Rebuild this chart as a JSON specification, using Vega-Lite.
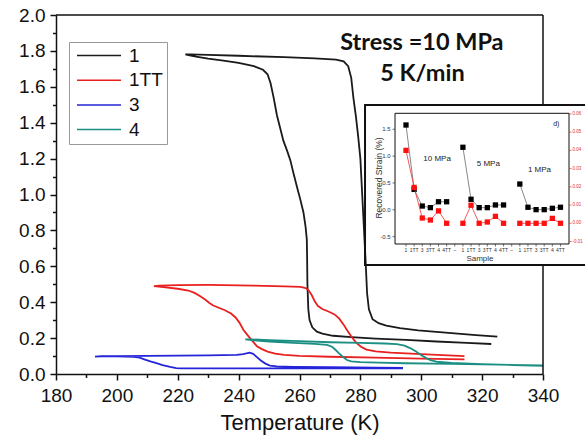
{
  "$schema": "https://vega.github.io/schema/vega-lite/v6.json",
  "width": 487,
  "height": 359,
  "autosize": {"type": "none"},
  "padding": {"left": 56, "top": 15, "right": 42, "bottom": 67},
  "background": "white",
  "config": {
    "view": {"stroke": null},
    "font": "Liberation Sans",
    "axis": {"grid": false, "domainColor": "#111", "tickColor": "#111", "labelColor": "#111", "titleColor": "#111", "titleFontWeight": "normal", "labelFont": "Liberation Sans", "titleFont": "Liberation Sans"}
  },
  "layer": [
    {
      "data": {"values": [
        {"s":"1","i":1,"T":323,"v":0.167},{"s":"1","i":2,"T":315,"v":0.173},{"s":"1","i":3,"T":305,"v":0.181},{"s":"1","i":4,"T":295,"v":0.19},{"s":"1","i":5,"T":285,"v":0.197},{"s":"1","i":6,"T":277,"v":0.205},{"s":"1","i":7,"T":271,"v":0.213},{"s":"1","i":8,"T":267.5,"v":0.225},{"s":"1","i":9,"T":265.7,"v":0.236},{"s":"1","i":10,"T":264.2,"v":0.26},{"s":"1","i":11,"T":263.3,"v":0.3},{"s":"1","i":12,"T":262.9,"v":0.36},{"s":"1","i":13,"T":262.6,"v":0.5},{"s":"1","i":14,"T":262.5,"v":0.65},{"s":"1","i":15,"T":262.4,"v":0.75},{"s":"1","i":16,"T":262,"v":0.82},{"s":"1","i":17,"T":261.3,"v":0.9},{"s":"1","i":18,"T":260.3,"v":0.97},{"s":"1","i":19,"T":259.2,"v":1.04},{"s":"1","i":20,"T":258,"v":1.12},{"s":"1","i":21,"T":257,"v":1.19},{"s":"1","i":22,"T":256,"v":1.24},{"s":"1","i":23,"T":254.7,"v":1.3},{"s":"1","i":24,"T":253.5,"v":1.38},{"s":"1","i":25,"T":252.6,"v":1.44},{"s":"1","i":26,"T":251.5,"v":1.54},{"s":"1","i":27,"T":250.5,"v":1.62},{"s":"1","i":28,"T":249.5,"v":1.67},{"s":"1","i":29,"T":248,"v":1.695},{"s":"1","i":30,"T":245,"v":1.715},{"s":"1","i":31,"T":240,"v":1.733},{"s":"1","i":32,"T":235,"v":1.746},{"s":"1","i":33,"T":230,"v":1.757},{"s":"1","i":34,"T":226,"v":1.768},{"s":"1","i":35,"T":223.5,"v":1.777},{"s":"1","i":36,"T":222.5,"v":1.781},{"s":"1","i":37,"T":224,"v":1.781},{"s":"1","i":38,"T":230,"v":1.778},{"s":"1","i":39,"T":240,"v":1.773},{"s":"1","i":40,"T":255,"v":1.765},{"s":"1","i":41,"T":265,"v":1.758},{"s":"1","i":42,"T":272,"v":1.751},{"s":"1","i":43,"T":274.5,"v":1.742},{"s":"1","i":44,"T":276,"v":1.715},{"s":"1","i":45,"T":277,"v":1.65},{"s":"1","i":46,"T":277.7,"v":1.54},{"s":"1","i":47,"T":278.5,"v":1.44},{"s":"1","i":48,"T":279.3,"v":1.32},{"s":"1","i":49,"T":280,"v":1.2},{"s":"1","i":50,"T":280.6,"v":1.0},{"s":"1","i":51,"T":281.2,"v":0.8},{"s":"1","i":52,"T":281.8,"v":0.6},{"s":"1","i":53,"T":282.2,"v":0.45},{"s":"1","i":54,"T":282.8,"v":0.36},{"s":"1","i":55,"T":284,"v":0.305},{"s":"1","i":56,"T":286,"v":0.283},{"s":"1","i":57,"T":288.5,"v":0.27},{"s":"1","i":58,"T":293,"v":0.255},{"s":"1","i":59,"T":299,"v":0.243},{"s":"1","i":60,"T":310,"v":0.228},{"s":"1","i":61,"T":318,"v":0.217},{"s":"1","i":62,"T":325,"v":0.208},
        {"s":"1TT","i":1,"T":314.2,"v":0.082},{"s":"1TT","i":2,"T":300,"v":0.086},{"s":"1TT","i":3,"T":285,"v":0.091},{"s":"1TT","i":4,"T":270,"v":0.096},{"s":"1TT","i":5,"T":260,"v":0.101},{"s":"1TT","i":6,"T":255,"v":0.106},{"s":"1TT","i":7,"T":252,"v":0.113},{"s":"1TT","i":8,"T":249.5,"v":0.125},{"s":"1TT","i":9,"T":247.5,"v":0.14},{"s":"1TT","i":10,"T":246,"v":0.155},{"s":"1TT","i":11,"T":244.5,"v":0.185},{"s":"1TT","i":12,"T":243,"v":0.215},{"s":"1TT","i":13,"T":241.6,"v":0.245},{"s":"1TT","i":14,"T":240.3,"v":0.285},{"s":"1TT","i":15,"T":239,"v":0.315},{"s":"1TT","i":16,"T":237.5,"v":0.337},{"s":"1TT","i":17,"T":235.5,"v":0.355},{"s":"1TT","i":18,"T":233.5,"v":0.369},{"s":"1TT","i":19,"T":231.5,"v":0.383},{"s":"1TT","i":20,"T":230.3,"v":0.397},{"s":"1TT","i":21,"T":229,"v":0.415},{"s":"1TT","i":22,"T":227.4,"v":0.433},{"s":"1TT","i":23,"T":225.5,"v":0.452},{"s":"1TT","i":24,"T":223.5,"v":0.465},{"s":"1TT","i":25,"T":220,"v":0.475},{"s":"1TT","i":26,"T":216,"v":0.483},{"s":"1TT","i":27,"T":213,"v":0.488},{"s":"1TT","i":28,"T":212.2,"v":0.49},{"s":"1TT","i":29,"T":214,"v":0.492},{"s":"1TT","i":30,"T":220,"v":0.495},{"s":"1TT","i":31,"T":230,"v":0.496},{"s":"1TT","i":32,"T":245,"v":0.492},{"s":"1TT","i":33,"T":255,"v":0.488},{"s":"1TT","i":34,"T":260.3,"v":0.485},{"s":"1TT","i":35,"T":262,"v":0.479},{"s":"1TT","i":36,"T":263,"v":0.466},{"s":"1TT","i":37,"T":264,"v":0.44},{"s":"1TT","i":38,"T":265,"v":0.405},{"s":"1TT","i":39,"T":266,"v":0.38},{"s":"1TT","i":40,"T":267.5,"v":0.362},{"s":"1TT","i":41,"T":269.5,"v":0.348},{"s":"1TT","i":42,"T":271.5,"v":0.332},{"s":"1TT","i":43,"T":273,"v":0.31},{"s":"1TT","i":44,"T":274.5,"v":0.275},{"s":"1TT","i":45,"T":275.8,"v":0.24},{"s":"1TT","i":46,"T":277.2,"v":0.205},{"s":"1TT","i":47,"T":278.6,"v":0.175},{"s":"1TT","i":48,"T":280.2,"v":0.152},{"s":"1TT","i":49,"T":282,"v":0.136},{"s":"1TT","i":50,"T":285,"v":0.126},{"s":"1TT","i":51,"T":290,"v":0.119},{"s":"1TT","i":52,"T":300,"v":0.111},{"s":"1TT","i":53,"T":314.2,"v":0.1},
        {"s":"3","i":1,"T":294,"v":0.031},{"s":"3","i":2,"T":275,"v":0.031},{"s":"3","i":3,"T":250,"v":0.031},{"s":"3","i":4,"T":230,"v":0.031},{"s":"3","i":5,"T":221,"v":0.031},{"s":"3","i":6,"T":219.5,"v":0.033},{"s":"3","i":7,"T":217.5,"v":0.04},{"s":"3","i":8,"T":215,"v":0.05},{"s":"3","i":9,"T":213,"v":0.06},{"s":"3","i":10,"T":211,"v":0.07},{"s":"3","i":11,"T":209,"v":0.082},{"s":"3","i":12,"T":207.5,"v":0.091},{"s":"3","i":13,"T":205.5,"v":0.096},{"s":"3","i":14,"T":200,"v":0.099},{"s":"3","i":15,"T":195,"v":0.098},{"s":"3","i":16,"T":192.8,"v":0.097},{"s":"3","i":17,"T":195,"v":0.099},{"s":"3","i":18,"T":200,"v":0.1},{"s":"3","i":19,"T":210,"v":0.101},{"s":"3","i":20,"T":220,"v":0.102},{"s":"3","i":21,"T":230,"v":0.104},{"s":"3","i":22,"T":239.4,"v":0.106},{"s":"3","i":23,"T":241.5,"v":0.111},{"s":"3","i":24,"T":243.6,"v":0.119},{"s":"3","i":25,"T":244.8,"v":0.112},{"s":"3","i":26,"T":246,"v":0.094},{"s":"3","i":27,"T":247.3,"v":0.075},{"s":"3","i":28,"T":248.8,"v":0.058},{"s":"3","i":29,"T":250.3,"v":0.047},{"s":"3","i":30,"T":252.5,"v":0.042},{"s":"3","i":31,"T":258,"v":0.04},{"s":"3","i":32,"T":270,"v":0.038},{"s":"3","i":33,"T":285,"v":0.036},{"s":"3","i":34,"T":294,"v":0.034},
        {"s":"4","i":1,"T":340,"v":0.048},{"s":"4","i":2,"T":325,"v":0.052},{"s":"4","i":3,"T":310,"v":0.056},{"s":"4","i":4,"T":295,"v":0.06},{"s":"4","i":5,"T":286,"v":0.063},{"s":"4","i":6,"T":280,"v":0.066},{"s":"4","i":7,"T":277,"v":0.07},{"s":"4","i":8,"T":275.6,"v":0.078},{"s":"4","i":9,"T":274.3,"v":0.095},{"s":"4","i":10,"T":273,"v":0.115},{"s":"4","i":11,"T":271.8,"v":0.135},{"s":"4","i":12,"T":270.7,"v":0.152},{"s":"4","i":13,"T":269,"v":0.162},{"s":"4","i":14,"T":265,"v":0.168},{"s":"4","i":15,"T":258,"v":0.173},{"s":"4","i":16,"T":250,"v":0.18},{"s":"4","i":17,"T":245,"v":0.187},{"s":"4","i":18,"T":242.2,"v":0.193},{"s":"4","i":19,"T":244,"v":0.193},{"s":"4","i":20,"T":250,"v":0.189},{"s":"4","i":21,"T":260,"v":0.183},{"s":"4","i":22,"T":270,"v":0.177},{"s":"4","i":23,"T":280,"v":0.173},{"s":"4","i":24,"T":288,"v":0.17},{"s":"4","i":25,"T":292,"v":0.167},{"s":"4","i":26,"T":294.5,"v":0.158},{"s":"4","i":27,"T":296.5,"v":0.143},{"s":"4","i":28,"T":298.3,"v":0.125},{"s":"4","i":29,"T":300,"v":0.105},{"s":"4","i":30,"T":301.5,"v":0.09},{"s":"4","i":31,"T":303,"v":0.077},{"s":"4","i":32,"T":305,"v":0.069},{"s":"4","i":33,"T":310,"v":0.062},{"s":"4","i":34,"T":320,"v":0.055},{"s":"4","i":35,"T":330,"v":0.05},{"s":"4","i":36,"T":340,"v":0.046}
      ]},
      "layer": [
        {
          "mark": {"type": "line", "strokeWidth": 1.8, "clip": true},
          "encoding": {
            "x": {"field": "T", "type": "quantitative", "scale": {"domain": [180, 340], "nice": false, "zero": false},
              "axis": {"orient": "bottom", "values": [180,200,220,240,260,280,300,320,340], "tickSize": 6, "tickWidth": 1.5, "domainWidth": 1.5, "labelFontSize": 19, "labelPadding": 6, "labelOverlap": false, "labelFlush": false, "title": "Temperature (K)", "titleFontSize": 22, "titlePadding": 7}},
            "y": {"field": "v", "type": "quantitative", "scale": {"domain": [0, 2], "nice": false, "zero": false},
              "axis": {"orient": "left", "values": [0,0.2,0.4,0.6,0.8,1.0,1.2,1.4,1.6,1.8,2.0], "format": ".1f", "tickSize": 6, "tickWidth": 1.5, "domainWidth": 1.5, "labelFontSize": 19, "labelPadding": 5, "labelOverlap": false, "labelFlush": false, "title": null}},
            "color": {"field": "s", "type": "nominal", "scale": {"domain": ["1", "1TT", "3", "4"], "range": ["#1a1a1a", "#e8201f", "#2424d8", "#1b8f83"]},
              "legend": {"orient": "none", "legendX": 13, "legendY": 27, "title": null, "labelFontSize": 19, "labelFont": "Liberation Sans", "labelColor": "#111", "symbolType": "M-1,0H7", "symbolSize": 121, "symbolStrokeWidth": 1.5, "labelOffset": 37, "padding": 4, "rowPadding": 4.7, "strokeColor": "#999", "fillColor": "white"}},
            "order": {"field": "i", "type": "quantitative"}
          }
        },
        {
          "mark": {"type": "line", "opacity": 0, "strokeOpacity": 0},
          "encoding": {
            "x": {"field": "T", "type": "quantitative",
              "axis": {"orient": "bottom", "values": [190,210,230,250,270,290,310,330], "labels": false, "domain": false, "tickSize": 3.5, "tickWidth": 1.5, "title": null}},
            "y": {"field": "v", "type": "quantitative",
              "axis": {"orient": "left", "values": [0.1,0.3,0.5,0.7,0.9,1.1,1.3,1.5,1.7,1.9], "labels": false, "domain": false, "tickSize": 3.5, "tickWidth": 1.5, "title": null}},
            "detail": {"field": "s", "type": "nominal"}
          }
        },
        {
          "data": {"values": [{}]},
          "mark": {"type": "rule", "color": "#111", "strokeWidth": 1.5},
          "encoding": {"x": {"datum": 180, "type": "quantitative", "axis": null}, "x2": {"datum": 340}, "y": {"datum": 2, "type": "quantitative", "axis": null}}
        },
        {
          "data": {"values": [{}]},
          "mark": {"type": "rule", "color": "#111", "strokeWidth": 1.5},
          "encoding": {"x": {"datum": 340, "type": "quantitative", "axis": null}, "y": {"datum": 0, "type": "quantitative", "axis": null}, "y2": {"datum": 0.607}}
        },
        {
          "data": {"values": [{}]},
          "mark": {"type": "rule", "color": "#111", "strokeWidth": 1.5},
          "encoding": {"x": {"datum": 340, "type": "quantitative", "axis": null}, "y": {"datum": 1.499, "type": "quantitative", "axis": null}, "y2": {"datum": 2}}
        },
        {
          "data": {"values": [{}]},
          "mark": {"type": "text", "font": "Lato", "fontWeight": "bold", "fontSize": 23.5, "align": "center", "baseline": "alphabetic", "color": "#111", "text": "Stress =10 MPa"},
          "encoding": {"x": {"datum": 300.2, "type": "quantitative", "axis": null}, "y": {"datum": 1.805, "type": "quantitative", "axis": null}}
        },
        {
          "data": {"values": [{}]},
          "mark": {"type": "text", "font": "Lato", "fontWeight": "bold", "fontSize": 23.5, "align": "center", "baseline": "alphabetic", "color": "#111", "text": "5 K/min"},
          "encoding": {"x": {"datum": 300.4, "type": "quantitative", "axis": null}, "y": {"datum": 1.632, "type": "quantitative", "axis": null}}
        }
      ],
      "resolve": {"axis": {"x": "independent", "y": "independent"}}
    },
    {
      "data": {"values": [
        {"g":"10 MPa","k":1,"b":1.58},{"g":"10 MPa","k":2,"b":0.38},{"g":"10 MPa","k":3,"b":0.07},{"g":"10 MPa","k":4,"b":0.04},{"g":"10 MPa","k":5,"b":0.15},{"g":"10 MPa","k":6,"b":0.15},
        {"g":"5 MPa","k":8,"b":1.165},{"g":"5 MPa","k":9,"b":0.196},{"g":"5 MPa","k":10,"b":0.04},{"g":"5 MPa","k":11,"b":0.04},{"g":"5 MPa","k":12,"b":0.09},{"g":"5 MPa","k":13,"b":0.09},
        {"g":"1 MPa","k":15,"b":0.48},{"g":"1 MPa","k":16,"b":0.047},{"g":"1 MPa","k":17,"b":0.003},{"g":"1 MPa","k":18,"b":0.003},{"g":"1 MPa","k":19,"b":0.028},{"g":"1 MPa","k":20,"b":0.047}
      ]},
      "layer": [
        {
          "data": {"values": [{}]},
          "mark": {"type": "rect", "filled": false, "stroke": "#111", "strokeWidth": 2},
          "encoding": {
            "x": {"datum": -4.04, "type": "quantitative", "scale": {"domain": [-42.05, 17.851], "nice": false, "zero": false}, "axis": null},
            "x2": {"datum": 27},
            "y": {"datum": 1.953, "type": "quantitative", "scale": {"domain": [-3.0595, 3.6296], "nice": false, "zero": false}, "axis": null},
            "y2": {"datum": -1.029}
          }
        },
        {
          "data": {"values": [{}]},
          "mark": {"type": "rect", "filled": false, "stroke": "#111", "strokeWidth": 1},
          "encoding": {
            "x": {"datum": -0.35, "type": "quantitative", "axis": null},
            "x2": {"datum": 21.05},
            "y": {"datum": 1.798, "type": "quantitative", "axis": null},
            "y2": {"datum": -0.637}
          }
        },
        {
          "mark": {"type": "line", "color": "#555", "strokeWidth": 0.7},
          "encoding": {
            "x": {"field": "k", "type": "quantitative", "axis": null},
            "y": {"field": "b", "type": "quantitative", "axis": null},
            "detail": {"field": "g", "type": "nominal"}
          }
        },
        {
          "mark": {"type": "point", "shape": "square", "filled": true, "color": "#000", "size": 28, "opacity": 1},
          "encoding": {
            "x": {"field": "k", "type": "quantitative", "axis": null},
            "y": {"field": "b", "type": "quantitative", "axis": null}
          }
        },
        {
          "data": {"values": [
            {"k":1,"lab":"1"},{"k":2,"lab":"1TT"},{"k":3,"lab":"3"},{"k":4,"lab":"3TT"},{"k":5,"lab":"4"},{"k":6,"lab":"4TT"},{"k":7,"lab":"–"},
            {"k":8,"lab":"1"},{"k":9,"lab":"1TT"},{"k":10,"lab":"3"},{"k":11,"lab":"3TT"},{"k":12,"lab":"4"},{"k":13,"lab":"4TT"},{"k":14,"lab":"–"},
            {"k":15,"lab":"1"},{"k":16,"lab":"1TT"},{"k":17,"lab":"3"},{"k":18,"lab":"3TT"},{"k":19,"lab":"4"},{"k":20,"lab":"4TT"}
          ]},
          "layer": [
            {
              "mark": {"type": "rule", "color": "#333", "strokeWidth": 0.7},
              "encoding": {
                "x": {"field": "k", "type": "quantitative", "axis": null},
                "y": {"datum": -0.637, "type": "quantitative", "axis": null},
                "y2": {"datum": -0.684}
              }
            },
            {
              "mark": {"type": "text", "fontSize": 5, "align": "center", "baseline": "top", "dy": 4, "color": "#333"},
              "encoding": {
                "x": {"field": "k", "type": "quantitative", "axis": null},
                "y": {"datum": -0.637, "type": "quantitative", "axis": null},
                "text": {"field": "lab", "type": "nominal"}
              }
            }
          ]
        },
        {
          "data": {"values": [
            {"b":-0.5,"lab":"-0.5"},{"b":0,"lab":"0.0"},{"b":0.5,"lab":"0.5"},{"b":1.0,"lab":"1.0"},{"b":1.5,"lab":"1.5"}
          ]},
          "layer": [
            {
              "mark": {"type": "rule", "color": "#333", "strokeWidth": 0.7},
              "encoding": {
                "x": {"datum": -0.35, "type": "quantitative", "axis": null},
                "x2": {"datum": -0.66},
                "y": {"field": "b", "type": "quantitative", "axis": null}
              }
            },
            {
              "mark": {"type": "text", "fontSize": 6, "align": "right", "baseline": "middle", "dx": -4.5, "color": "#333"},
              "encoding": {
                "x": {"datum": -0.35, "type": "quantitative", "axis": null},
                "y": {"field": "b", "type": "quantitative", "axis": null},
                "text": {"field": "lab", "type": "nominal"}
              }
            }
          ]
        },
        {
          "data": {"values": [{}]},
          "mark": {"type": "text", "fontSize": 8, "align": "center", "baseline": "middle", "color": "#333", "text": "Sample"},
          "encoding": {"x": {"datum": 10.1, "type": "quantitative", "axis": null}, "y": {"datum": -0.917, "type": "quantitative", "axis": null}}
        },
        {
          "data": {"values": [{}]},
          "mark": {"type": "text", "fontSize": 8.5, "align": "center", "baseline": "middle", "angle": 270, "color": "#333", "text": "Recovered Strain (%)"},
          "encoding": {"x": {"datum": -2.32, "type": "quantitative", "axis": null}, "y": {"datum": 0.593, "type": "quantitative", "axis": null}}
        },
        {
          "data": {"values": [{}]},
          "mark": {"type": "text", "fontSize": 8, "align": "left", "baseline": "alphabetic", "color": "#222", "text": "10 MPa"},
          "encoding": {"x": {"datum": 3.13, "type": "quantitative", "axis": null}, "y": {"datum": 0.909, "type": "quantitative", "axis": null}}
        },
        {
          "data": {"values": [{}]},
          "mark": {"type": "text", "fontSize": 8, "align": "left", "baseline": "alphabetic", "color": "#222", "text": "5 MPa"},
          "encoding": {"x": {"datum": 9.7, "type": "quantitative", "axis": null}, "y": {"datum": 0.82, "type": "quantitative", "axis": null}}
        },
        {
          "data": {"values": [{}]},
          "mark": {"type": "text", "fontSize": 8, "align": "left", "baseline": "alphabetic", "color": "#222", "text": "1 MPa"},
          "encoding": {"x": {"datum": 16.0, "type": "quantitative", "axis": null}, "y": {"datum": 0.71, "type": "quantitative", "axis": null}}
        },
        {
          "data": {"values": [{}]},
          "mark": {"type": "text", "fontSize": 7, "align": "left", "baseline": "alphabetic", "color": "#222", "text": "d)"},
          "encoding": {"x": {"datum": 19.1, "type": "quantitative", "axis": null}, "y": {"datum": 1.56, "type": "quantitative", "axis": null}}
        }
      ]
    },
    {
      "data": {"values": [
        {"g":"10 MPa","k":1,"r":0.04},{"g":"10 MPa","k":2,"r":0.0197},{"g":"10 MPa","k":3,"r":0.0029},{"g":"10 MPa","k":4,"r":0.0018},{"g":"10 MPa","k":5,"r":0.0068},{"g":"10 MPa","k":6,"r":0.0},
        {"g":"5 MPa","k":8,"r":0.0},{"g":"5 MPa","k":9,"r":0.0099},{"g":"5 MPa","k":10,"r":0.0},{"g":"5 MPa","k":11,"r":0.0007},{"g":"5 MPa","k":12,"r":0.0038},{"g":"5 MPa","k":13,"r":0.0},
        {"g":"1 MPa","k":15,"r":0.0},{"g":"1 MPa","k":16,"r":0.0},{"g":"1 MPa","k":17,"r":0.0},{"g":"1 MPa","k":18,"r":0.0},{"g":"1 MPa","k":19,"r":0.0027},{"g":"1 MPa","k":20,"r":0.0}
      ]},
      "layer": [
        {
          "mark": {"type": "line", "color": "#f03030", "strokeWidth": 0.8},
          "encoding": {
            "x": {"field": "k", "type": "quantitative", "scale": {"domain": [-42.05, 17.851], "nice": false, "zero": false}, "axis": null},
            "y": {"field": "r", "type": "quantitative", "scale": {"domain": [-0.08267, 0.11426], "nice": false, "zero": false}, "axis": null},
            "detail": {"field": "g", "type": "nominal"}
          }
        },
        {
          "mark": {"type": "point", "shape": "square", "filled": true, "color": "#ff1010", "size": 28, "opacity": 1},
          "encoding": {
            "x": {"field": "k", "type": "quantitative", "axis": null},
            "y": {"field": "r", "type": "quantitative", "axis": null}
          }
        },
        {
          "data": {"values": [
            {"r":-0.01,"lab":"-0.01"},{"r":0,"lab":"0.00"},{"r":0.01,"lab":"0.01"},{"r":0.02,"lab":"0.02"},{"r":0.03,"lab":"0.03"},{"r":0.04,"lab":"0.04"},{"r":0.05,"lab":"0.05"},{"r":0.06,"lab":"0.06"}
          ]},
          "layer": [
            {
              "mark": {"type": "rule", "color": "#e03030", "strokeWidth": 0.7},
              "encoding": {
                "x": {"datum": 21.05, "type": "quantitative", "axis": null},
                "x2": {"datum": 21.36},
                "y": {"field": "r", "type": "quantitative", "axis": null}
              }
            },
            {
              "mark": {"type": "text", "fontSize": 4.5, "align": "left", "baseline": "middle", "dx": 3.5, "color": "#e03030"},
              "encoding": {
                "x": {"datum": 21.05, "type": "quantitative", "axis": null},
                "y": {"field": "r", "type": "quantitative", "axis": null},
                "text": {"field": "lab", "type": "nominal"}
              }
            }
          ]
        }
      ]
    }
  ],
  "resolve": {"scale": {"x": "independent", "y": "independent"}, "axis": {"x": "independent", "y": "independent"}}
}
